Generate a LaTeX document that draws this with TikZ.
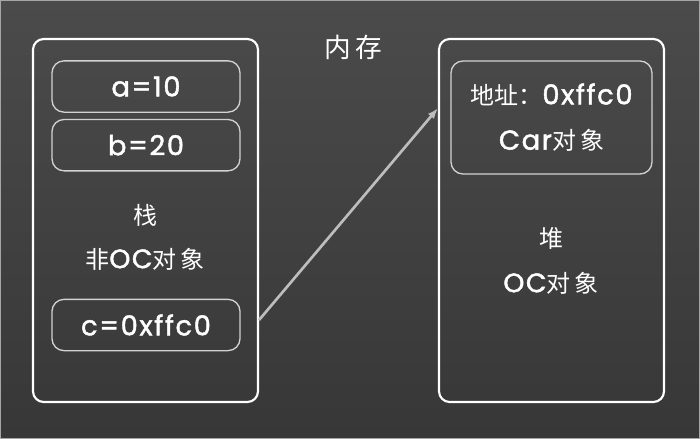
\documentclass[tikz,border=0pt]{standalone}
\usepackage{fontspec}
\newfontfamily\cjk{Noto Sans CJK SC}
\newfontfamily\chalk{Poppins}[LetterSpace=6,FakeBold=1.6]
\usetikzlibrary{arrows.meta,positioning,calc}
\definecolor{bgtop}{HTML}{4B4B4B}
\definecolor{bgbot}{HTML}{373737}
\definecolor{cellline}{HTML}{D2D2D2}
\definecolor{arrowgray}{HTML}{BDBDBD}
\newcommand{\zh}[1]{{\cjk\fontsize{18}{24}\selectfont #1}}
\newcommand{\en}[1]{{\chalk\fontsize{20}{24}\selectfont #1}}

\begin{document}
\begin{tikzpicture}[x=0.75pt,y=-0.75pt,
  frame/.style={draw=white,line width=1.6pt,rounded corners=8pt,minimum width=168.75pt,minimum height=272.25pt},
  cell/.style={draw=cellline,line width=1pt,rounded corners=9pt,minimum width=141pt,minimum height=38.5pt,text=white,font=\chalk\fontsize{20.5}{24}\selectfont},
  txt/.style={text=white,font=\cjk\fontsize{18}{24}\selectfont},
  arrow/.style={-{Latex[length=8pt,width=6pt]},line width=2pt,draw=arrowgray}]
  \useasboundingbox (0,0) rectangle (700,439);
  \shade[top color=bgtop,bottom color=bgbot] (0,0) rectangle (700,439);
  \draw[gray!70,line width=1pt] (0.7,0.7) rectangle (699.3,438.3);
  % stack and heap
  \node[frame] (stack) at (145.5,220.5) {};
  \node[frame] (heap) at (551.5,220.5) {};
  \node[txt,font=\cjk\fontsize{20}{24}\selectfont] (title) at (353,47) {内\,存};
  % stack side
  \node[cell] (a) at (146,86.5) {a=10};
  \node[cell,below=4.5pt of a] (b) {b=20};
  \node[txt] (stk) at (145,215) {栈};
  \node[txt] (nonoc) at (145,259) {非\en{OC}对\,象};
  \node[cell] (c) at (146,325) {c=0xffc0};
  % heap side
  \node[cell,minimum width=150.75pt,minimum height=84.75pt,align=center] (addr) at (551.5,117.5)
    {\zh{地址：}0xffc0\\[10pt]Car\zh{对\,象}};
  \node[txt] (hp) at (551,238) {堆};
  \node[txt] (oc) at (551,283) {\en{OC}对\,象};
  \draw[arrow] ([yshift=3.75pt]c.east -| stack.east) -- ([yshift=7pt]addr.west -| heap.west);
\end{tikzpicture}
\end{document}
